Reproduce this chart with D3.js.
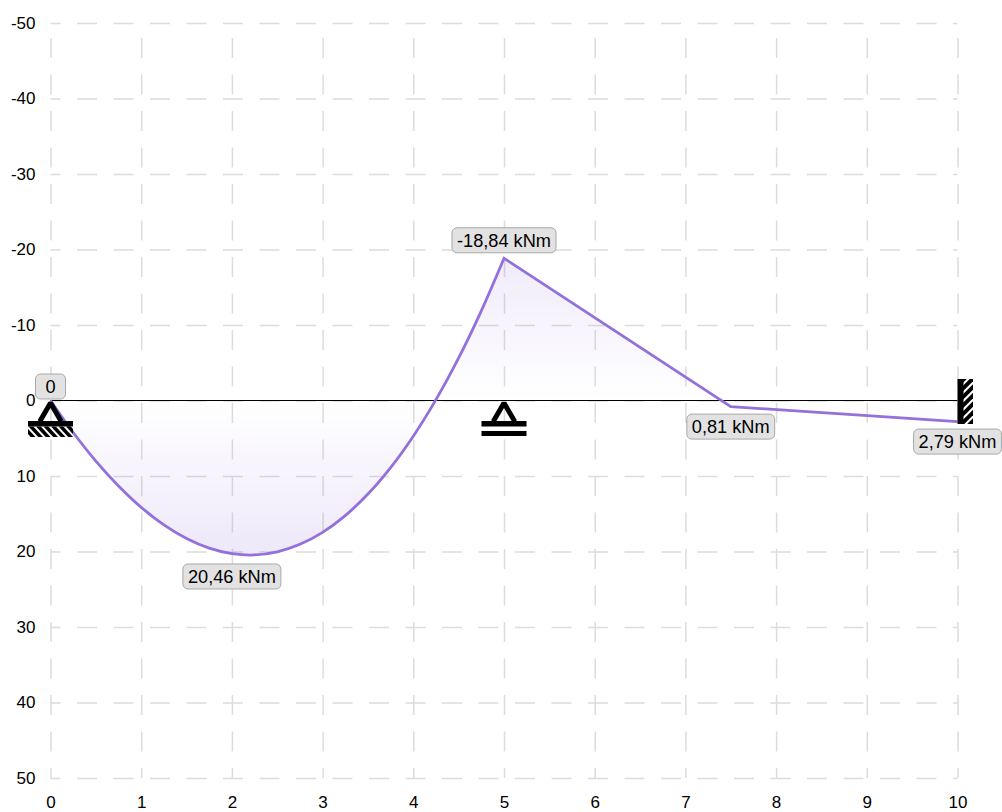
<!DOCTYPE html>
<html>
<head>
<meta charset="utf-8">
<script src="https://cdn.jsdelivr.net/npm/d3@7"></script>
<style>
  html, body { margin: 0; padding: 0; background: #fff; overflow: hidden; }
  svg { display: block; }
  text { font-family: "Liberation Sans", Arial, sans-serif; fill: #000; }
  .grid text { font-size: 17px; }
  .grid line { stroke: #dcdcdc; stroke-width: 1.5; stroke-dasharray: 20 16.5; stroke-dashoffset: 10; }
  .grid path { display: none; }
  .valueLabel text { font-size: 18.2px; }
</style>
</head>
<body>
<div id="chart"></div>
<script>
// bending moment line (x in m, value in kNm, down is positive)
// curved span up to the middle support
var spanStations = [0, 0.25, 0.5, 0.75, 1, 1.25, 1.5, 1.75, 2, 2.25, 2.5, 2.75, 3, 3.25, 3.5, 3.75, 4, 4.25, 4.5, 4.75, 5];
var spanMoments = [0, 4.24, 8.02, 11.32, 14.15, 16.47, 18.27, 19.55, 20.28, 20.46, 20.05, 19.05, 17.46, 15.24, 12.39, 8.89, 4.73, -0.11, -5.64, -11.88, -18.84];
// straight part after it
var restStations = [5, 7.5, 10];
var restMoments = [-18.84, 0.81, 2.79];

// value labels
var labelTexts = ["0", "-18,84 kNm", "20,46 kNm", "0,81 kNm", "2,79 kNm"];
var labelX = [0, 5, 2, 7.5, 10];
var labelY = [0, -18.84, 20.46, 0.81, 2.79];
var labelGap = [-14, -18, 21.5, 20, 20];

var xTicks = [0, 1, 2, 3, 4, 5, 6, 7, 8, 9, 10];
var yTicks = [-50, -40, -30, -20, -10, 0, 10, 20, 30, 40, 50];

var margin = { top: 23, right: 44.5, bottom: 34, left: 50.5 },
    width = 1002 - margin.left - margin.right,
    height = 812 - margin.top - margin.bottom;

var svg = d3.select("#chart")
    .append("svg")
    .attr("width", 1002)
    .attr("height", 812)
    .append("g")
    .attr("transform", "translate(" + margin.left + "," + margin.top + ")");

var x = d3.scaleLinear().domain([0, 10]).range([0, width]);
var y = d3.scaleLinear().domain([-50, 50]).range([0, height]);

// gridlines + tick labels
var xAxis = svg.append("g")
    .attr("class", "grid")
    .attr("transform", "translate(0," + height + ")")
    .call(d3.axisBottom(x).tickValues(xTicks).tickSize(-height).tickPadding(15).tickFormat(String));
var yAxis = svg.append("g")
    .attr("class", "grid")
    .call(d3.axisLeft(y).tickValues(yTicks).tickSize(-width).tickPadding(15).tickFormat(String));

xAxis.selectAll("text").attr("dy", "0.88em");
yAxis.selectAll("text").attr("dy", "0.3em");

var spanPoints = spanStations.map(function (d, i) { return [d, spanMoments[i]]; });
var restPoints = restStations.map(function (d, i) { return [d, restMoments[i]]; });
var minMoment = d3.min(spanMoments), maxMoment = d3.max(spanMoments);

// fill fades out towards the beam
var defs = svg.append("defs");
var grad = defs.append("linearGradient")
    .attr("id", "momentFill")
    .attr("gradientUnits", "userSpaceOnUse")
    .attr("x1", 0).attr("x2", 0)
    .attr("y1", y(minMoment)).attr("y2", y(maxMoment));
var zeroAt = (y(0) - y(minMoment)) / (y(maxMoment) - y(minMoment));
grad.append("stop").attr("offset", 0).attr("stop-color", "#9370db").attr("stop-opacity", 0.14);
grad.append("stop").attr("offset", zeroAt).attr("stop-color", "#9370db").attr("stop-opacity", 0);
grad.append("stop").attr("offset", 1).attr("stop-color", "#9370db").attr("stop-opacity", 0.16);

var spanArea = d3.area()
    .x(function (d) { return x(d[0]); })
    .y0(y(0))
    .y1(function (d) { return y(d[1]); })
    .curve(d3.curveCatmullRom);
var restArea = d3.area()
    .x(function (d) { return x(d[0]); })
    .y0(y(0))
    .y1(function (d) { return y(d[1]); });

svg.append("path").attr("fill", "url(#momentFill)").attr("d", spanArea(spanPoints));
svg.append("path").attr("fill", "url(#momentFill)").attr("d", restArea(restPoints));

// beam
svg.append("line")
    .attr("x1", x(0)).attr("x2", x(10))
    .attr("y1", y(0)).attr("y2", y(0))
    .attr("stroke", "#000")
    .attr("stroke-width", 1);

var spanLine = d3.line()
    .x(function (d) { return x(d[0]); })
    .y(function (d) { return y(d[1]); })
    .curve(d3.curveCatmullRom);
var restLine = d3.line()
    .x(function (d) { return x(d[0]); })
    .y(function (d) { return y(d[1]); });

svg.append("path")
    .attr("fill", "none")
    .attr("stroke", "#9370db")
    .attr("stroke-width", 2.8)
    .attr("stroke-linejoin", "miter")
    .attr("d", spanLine(spanPoints) + "L" + restLine(restPoints).slice(1));

// supports
function triangle(g) {
    g.append("path")
        .attr("d", "M-10.75,21 L0,2.5 L10.75,21")
        .attr("fill", "none")
        .attr("stroke", "#000")
        .attr("stroke-linejoin", "bevel")
        .attr("stroke-width", 5);
    g.append("rect").attr("x", -22.5).attr("y", 20.5).attr("width", 45).attr("height", 5.5);
}

// pinned support on the left, hatched underneath
var pin = svg.append("g").attr("transform", "translate(" + x(0) + "," + y(0) + ")");
pin.call(triangle);
var pinClip = defs.append("clipPath").attr("id", "pinClip");
pinClip.append("rect").attr("x", -22.5).attr("y", 26).attr("width", 45).attr("height", 10.5);
var pinHatch = pin.append("g").attr("clip-path", "url(#pinClip)");
d3.range(-28, 28, 7.5).forEach(function (d) {
    pinHatch.append("line")
        .attr("x1", d).attr("y1", 25)
        .attr("x2", d + 12).attr("y2", 38)
        .attr("stroke", "#000").attr("stroke-width", 3.5);
});

// roller in the middle, two bars
var roller = svg.append("g").attr("transform", "translate(" + x(5) + "," + y(0) + ")");
roller.call(triangle);
roller.append("rect").attr("x", -22.5).attr("y", 30.5).attr("width", 45).attr("height", 5);

// fixed end on the right
var fixed = svg.append("g").attr("transform", "translate(" + x(10) + "," + y(0) + ")");
fixed.append("rect").attr("x", 0).attr("y", -21.5).attr("width", 6).attr("height", 45);
var fixClip = defs.append("clipPath").attr("id", "fixClip");
fixClip.append("rect").attr("x", 5).attr("y", -21.5).attr("width", 10.5).attr("height", 45);
var fixHatch = fixed.append("g").attr("clip-path", "url(#fixClip)");
d3.range(-32, 36, 8.5).forEach(function (d) {
    fixHatch.append("line")
        .attr("x1", 3).attr("y1", d + 14)
        .attr("x2", 17).attr("y2", d)
        .attr("stroke", "#000").attr("stroke-width", 4);
});

// value labels with rounded boxes
labelTexts.forEach(function (t, i) {
    var g = svg.append("g")
        .attr("class", "valueLabel")
        .attr("transform", "translate(" + x(labelX[i]) + "," + (y(labelY[i]) + labelGap[i]) + ")");
    var box = g.append("rect");
    var txt = g.append("text")
        .attr("text-anchor", "middle")
        .attr("dy", "0.35em")
        .text(t);
    var w = Math.max(txt.node().getComputedTextLength() + 10, 30);
    box.attr("x", -w / 2).attr("y", -12.5)
        .attr("width", w).attr("height", 25)
        .attr("rx", 5).attr("ry", 5)
        .attr("fill", "#e2e2e2")
        .attr("stroke", "#a8a8a8")
        .attr("stroke-width", 1);
});
</script>
</body>
</html>
